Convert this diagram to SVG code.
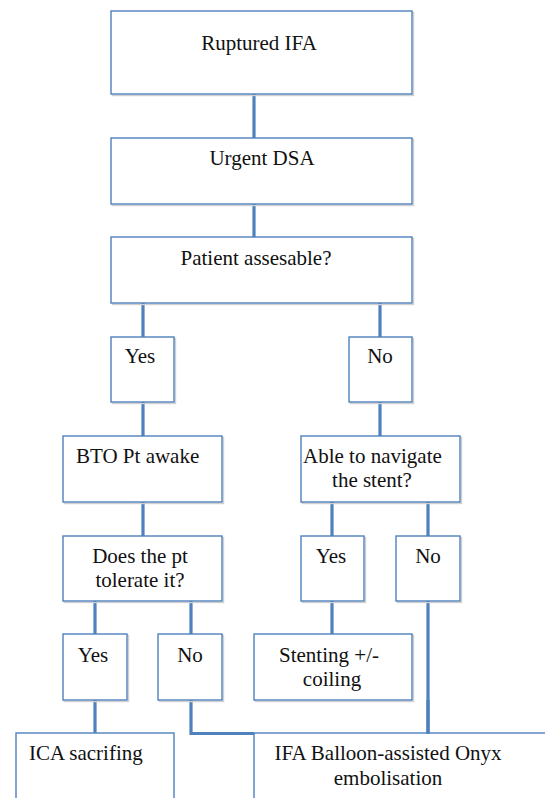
<svg xmlns="http://www.w3.org/2000/svg" width="545" height="798" viewBox="0 0 545 798">
<defs>
<style>
.box{fill:#fff;stroke:#4f81bd;stroke-width:1.4}
.sh{fill:none;stroke:#d0d0d0;stroke-width:1.4}
.t{font-family:'Liberation Serif','Times New Roman',serif;font-size:21px;fill:#111}
.m{text-anchor:middle}
.c{stroke:#4f81bd;stroke-width:3.2;fill:none}
</style>
</defs>
<rect width="545" height="798" fill="#fff"/>
<g id="connectors">
<line class="c" x1="254" y1="94" x2="254" y2="138"/>
<line class="c" x1="254" y1="204" x2="254" y2="238"/>
<line class="c" x1="143" y1="303" x2="143" y2="337"/>
<line class="c" x1="380" y1="303" x2="380" y2="337"/>
<line class="c" x1="143" y1="402" x2="143" y2="436"/>
<line class="c" x1="380" y1="402" x2="380" y2="436"/>
<line class="c" x1="143" y1="502" x2="143" y2="536"/>
<line class="c" x1="332" y1="502" x2="332" y2="536"/>
<line class="c" x1="428" y1="502" x2="428" y2="536"/>
<line class="c" x1="95" y1="601" x2="95" y2="637"/>
<line class="c" x1="191" y1="601" x2="191" y2="634"/>
<line class="c" x1="332" y1="601" x2="332" y2="635"/>
<line class="c" x1="428" y1="601" x2="428" y2="734"/>
<line class="c" x1="95" y1="700" x2="95" y2="734"/>
<polyline class="c" points="191,700 191,733.5 254,733.5"/>
</g>
<g id="n1"><rect class="sh" x="112.5" y="12.5" width="301" height="83"/><rect class="box" x="111" y="11" width="301" height="83"/><text class="t m" x="259" y="50">Ruptured IFA</text></g>
<g id="n2"><rect class="sh" x="112.5" y="139.5" width="301" height="66"/><rect class="box" x="111" y="138" width="301" height="66"/><text class="t m" x="262" y="165">Urgent DSA</text></g>
<g id="n3"><rect class="sh" x="112.5" y="238.5" width="301" height="66"/><rect class="box" x="111" y="237" width="301" height="66"/><text class="t m" x="256" y="265">Patient assesable?</text></g>
<g id="n4"><rect class="sh" x="112.5" y="338.5" width="63" height="65"/><rect class="box" x="111" y="337" width="63" height="65"/><text class="t m" x="140" y="363">Yes</text></g>
<g id="n5"><rect class="sh" x="350.5" y="338.5" width="63" height="65"/><rect class="box" x="349" y="337" width="63" height="65"/><text class="t m" x="380" y="363">No</text></g>
<g id="n6"><rect class="sh" x="64.5" y="437.5" width="159" height="66"/><rect class="box" x="63" y="436" width="159" height="66"/><text class="t" x="76" y="463">BTO Pt awake</text></g>
<g id="n7"><rect class="sh" x="302.5" y="437.5" width="159" height="66"/><rect class="box" x="301" y="436" width="159" height="66"/><text class="t" x="303" y="463">Able to navigate</text><text class="t m" x="372" y="487">the stent?</text></g>
<g id="n8"><rect class="sh" x="64.5" y="537.5" width="159" height="65"/><rect class="box" x="63" y="536" width="159" height="65"/><text class="t m" x="140" y="563">Does the pt</text><text class="t m" x="140" y="587">tolerate it?</text></g>
<g id="n9"><rect class="sh" x="302.5" y="537.5" width="63" height="65"/><rect class="box" x="301" y="536" width="63" height="65"/><text class="t m" x="331" y="563">Yes</text></g>
<g id="n10"><rect class="sh" x="397.5" y="537.5" width="64" height="65"/><rect class="box" x="396" y="536" width="64" height="65"/><text class="t m" x="428" y="563">No</text></g>
<g id="n11"><rect class="sh" x="64.5" y="635.5" width="64" height="66"/><rect class="box" x="63" y="634" width="64" height="66"/><text class="t m" x="93" y="662">Yes</text></g>
<g id="n12"><rect class="sh" x="159.5" y="635.5" width="64" height="66"/><rect class="box" x="158" y="634" width="64" height="66"/><text class="t m" x="190" y="662">No</text></g>
<g id="n13"><rect class="sh" x="255.5" y="635.5" width="158" height="66"/><rect class="box" x="254" y="634" width="158" height="66"/><text class="t m" x="329" y="662">Stenting +/-</text><text class="t m" x="332" y="686">coiling</text></g>
<g id="n14"><rect class="box" x="16" y="733" width="158" height="80"/><text class="t" x="29" y="760">ICA sacrifing</text></g>
<g id="n15"><rect class="box" x="254" y="733" width="320" height="80"/><text class="t m" x="388" y="760">IFA Balloon-assisted Onyx</text><text class="t m" x="388" y="785">embolisation</text></g>
<line class="c" x1="428" y1="700" x2="428" y2="734"/>
</svg>
